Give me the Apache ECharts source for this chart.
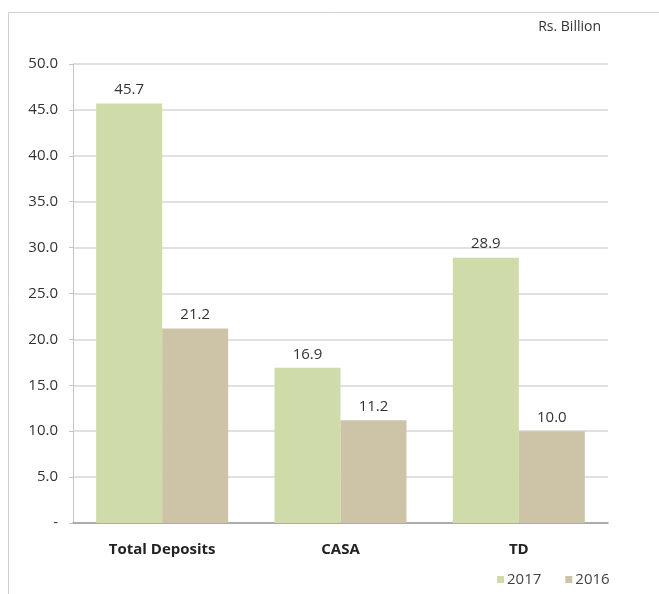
<!DOCTYPE html>
<html>
<head>
<meta charset="utf-8">
<script src="https://cdn.jsdelivr.net/npm/echarts@6/dist/echarts.min.js"></script>
<style>
  html, body { margin: 0; padding: 0; background: #fff; }
  #chart { width: 659px; height: 594px; }
</style>
</head>
<body>
<div id="chart"></div>
<script>
// Deposit mix, Rs. Billion
const categories = ['Total Deposits', 'CASA', 'TD'];
const seriesNames = ['2017', '2016'];
const values2017 = [45.7, 16.9, 28.9];
const values2016 = [21.2, 11.2, 10.0];
const yTicks = { min: 0, max: 50, interval: 5 };

const FONT = '"Open Sans", "Noto Sans", sans-serif';
const colors = ['#cfdba9', '#cdc3a6'];

const chart = echarts.init(document.getElementById('chart'), null, { renderer: 'canvas' });

const labelStyle = {
  show: true,
  position: 'top',
  distance: 6,
  fontFamily: FONT,
  fontSize: 15,
  color: '#333',
  formatter: p => p.value.toFixed(1)
};

chart.setOption({
  animation: false,
  backgroundColor: '#fff',
  textStyle: { fontFamily: FONT },
  graphic: [
    {
      type: 'rect',
      shape: { x: 8.5, y: 12.5, width: 720, height: 700 },
      style: { fill: 'none', stroke: '#cfcfcf', lineWidth: 1 },
      silent: true
    },
    {
      type: 'text',
      right: 58,
      top: 20,
      style: { text: 'Rs. Billion', fontFamily: FONT, fontSize: 14, fill: '#333' }
    }
  ],
  grid: { left: 73, right: 51, top: 64, bottom: 71, containLabel: false },
  legend: {
    left: 492,
    top: 567,
    itemWidth: 7,
    itemHeight: 7,
    itemGap: 24,
    icon: 'rect',
    textStyle: { fontFamily: FONT, fontSize: 15, color: '#444', padding: [0, 0, 0, -2] },
    data: seriesNames
  },
  xAxis: {
    type: 'category',
    data: categories,
    axisLine: { show: true, lineStyle: { color: '#9a9a9a', width: 1.5 } },
    axisTick: { show: false },
    axisLabel: {
      margin: 19,
      fontFamily: FONT,
      fontSize: 15,
      fontWeight: 'bold',
      color: '#222'
    }
  },
  yAxis: {
    type: 'value',
    min: yTicks.min,
    max: yTicks.max,
    interval: yTicks.interval,
    axisLine: { show: true, lineStyle: { color: '#c4c4c4', width: 1 } },
    axisTick: { show: true, length: 4, inside: false, lineStyle: { color: '#c4c4c4' } },
    splitLine: { show: true, lineStyle: { color: '#d6d6d6', width: 1.5 } },
    axisLabel: {
      margin: 15,
      fontFamily: FONT,
      fontSize: 15,
      color: '#333',
      formatter: v => (v === 0 ? '-' : v.toFixed(1))
    }
  },
  series: [
    {
      name: seriesNames[0],
      type: 'bar',
      data: values2017,
      itemStyle: { color: colors[0] },
      barGap: '0%',
      barCategoryGap: '26%',
      label: labelStyle
    },
    {
      name: seriesNames[1],
      type: 'bar',
      data: values2016,
      itemStyle: { color: colors[1] },
      barGap: '0%',
      barCategoryGap: '26%',
      label: labelStyle
    }
  ]
});
</script>
</body>
</html>
